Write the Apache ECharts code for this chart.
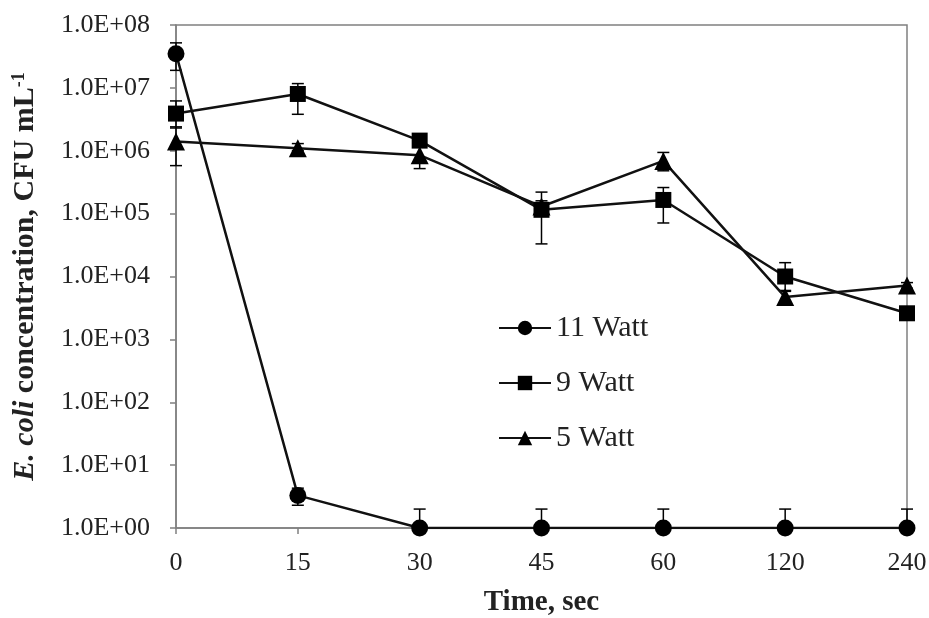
<!DOCTYPE html>
<html>
<head>
<meta charset="utf-8">
<script src="https://cdn.jsdelivr.net/npm/echarts@6/dist/echarts.min.js"></script>
<style>html,body{margin:0;padding:0;background:#fff}#c{width:929px;height:618px}</style>
</head>
<body>
<div id="c"></div>
<script>
const categories = ['0', '15', '30', '45', '60', '120', '240'];
const seriesNames = ['11 Watt', '9 Watt', '5 Watt'];
const w11 = [3.5e7, 3.3, 1, 1, 1, 1, 1];
const w9 = [3.9e6, 8.0e6, 1.45e6, 1.15e5, 1.65e5, 1.0e4, 2.6e3];
const w5 = [1.4e6, 1.1e6, 8.5e5, 1.3e5, 6.9e5, 4.7e3, 7.2e3];
const e11Low = [1.9e7, 2.3, null, null, null, null, null];
const e11High = [5.2e7, 4.3, 2, 2, 2, 2, 2];
const e9Low = [2.3e6, 3.8e6, 1.2e6, 3.3e4, 7.1e4, 6.0e3, 2.2e3];
const e9High = [6.2e6, 1.17e7, 1.8e6, 2.2e5, 2.6e5, 1.66e4, 3.0e3];
const e5Low = [5.8e5, 1.0e6, 5.2e5, 1.0e5, 4.8e5, 3.6e3, 6.5e3];
const e5High = [2.4e6, 1.3e6, 1.3e6, 1.6e5, 9.4e5, 5.8e3, 8.0e3];
const yTickExps = [0, 1, 2, 3, 4, 5, 6, 7, 8];

const FONT = "'Liberation Serif', 'Times New Roman', serif";
const AXIS = '#808080';

function errData(vals, lows, highs) {
  return vals.map((v, i) => [i, lows[i] == null ? v : lows[i], highs[i], lows[i] == null ? 0 : 1]);
}
function renderErr(params, api) {
  const x = api.value(0);
  const lo = api.coord([x, api.value(1)]);
  const hi = api.coord([x, api.value(2)]);
  const hasLow = api.value(3) === 1;
  const cap = 6;
  const style = { stroke: '#000', lineWidth: 1.5 };
  const children = [
    { type: 'line', shape: { x1: lo[0], y1: lo[1], x2: hi[0], y2: hi[1] }, style },
    { type: 'line', shape: { x1: hi[0] - cap, y1: hi[1], x2: hi[0] + cap, y2: hi[1] }, style }
  ];
  if (hasLow) children.push({ type: 'line', shape: { x1: lo[0] - cap, y1: lo[1], x2: lo[0] + cap, y2: lo[1] }, style });
  return { type: 'group', children };
}
function lineSeries(name, data, symbol, size) {
  return {
    name, type: 'line', data, symbol, symbolSize: size, z: 3,
    lineStyle: { color: '#111', width: 2.5 },
    itemStyle: { color: '#000' },
    emphasis: { disabled: true }, animation: false
  };
}
function errSeries(vals, lows, highs) {
  return {
    type: 'custom', renderItem: renderErr, data: errData(vals, lows, highs),
    encode: { x: 0, y: [1, 2] }, z: 2, silent: true, animation: false
  };
}

const chart = echarts.init(document.getElementById('c'));
chart.setOption({
  backgroundColor: '#fff',
  animation: false,
  grid: {
    left: 176, right: 22, top: 25, bottom: 90, outerBoundsMode: 'none', containLabel: false,
    show: true, borderColor: AXIS, borderWidth: 1.5, backgroundColor: 'transparent'
  },
  legend: {
    data: seriesNames,
    orient: 'vertical', left: 493, top: 307,
    itemWidth: 52, itemHeight: 18, itemGap: 23,
    textStyle: { fontFamily: FONT, fontSize: 30, color: '#222', lineHeight: 32 }
  },
  xAxis: {
    type: 'category', data: categories, boundaryGap: false,
    axisLine: { lineStyle: { color: AXIS, width: 1.5 } },
    axisTick: { show: true, length: 6, lineStyle: { color: AXIS, width: 1.5 } },
    axisLabel: { fontFamily: FONT, fontSize: 26, color: '#222', margin: 22 },
    name: 'Time, sec', nameLocation: 'middle', nameGap: 60,
    nameTextStyle: { fontFamily: FONT, fontSize: 29, fontWeight: 'bold', color: '#222' }
  },
  yAxis: {
    type: 'log', logBase: 10, min: 1, max: 1e8, interval: 1,
    axisLine: { show: true, lineStyle: { color: AXIS, width: 1.5 } },
    axisTick: { show: true, length: 6, lineStyle: { color: AXIS, width: 1.5 } },
    splitLine: { show: false },
    axisLabel: {
      fontFamily: FONT, fontSize: 26, color: '#222', margin: 26,
      formatter: v => {
        const e = Math.round(Math.log10(v));
        return yTickExps.indexOf(e) >= 0 ? '1.0E+' + String(e).padStart(2, '0') : '';
      }
    },
    name: '{i|E. coli} concentration, CFU mL{s|-1}',
    nameLocation: 'middle', nameGap: 136, nameRotate: 90,
    nameTextStyle: {
      fontFamily: FONT, fontSize: 30, fontWeight: 'bold', color: '#222',
      rich: {
        i: { fontFamily: FONT, fontSize: 30, fontWeight: 'bold', fontStyle: 'italic', color: '#222' },
        s: { fontFamily: FONT, fontSize: 18, fontWeight: 'bold', color: '#222', verticalAlign: 'top' }
      }
    }
  },
  series: [
    lineSeries(seriesNames[0], w11, 'circle', 17),
    lineSeries(seriesNames[1], w9, 'rect', 16),
    lineSeries(seriesNames[2], w5, 'triangle', 18),
    errSeries(w11, e11Low, e11High),
    errSeries(w9, e9Low, e9High),
    errSeries(w5, e5Low, e5High)
  ]
});
</script>
</body>
</html>
